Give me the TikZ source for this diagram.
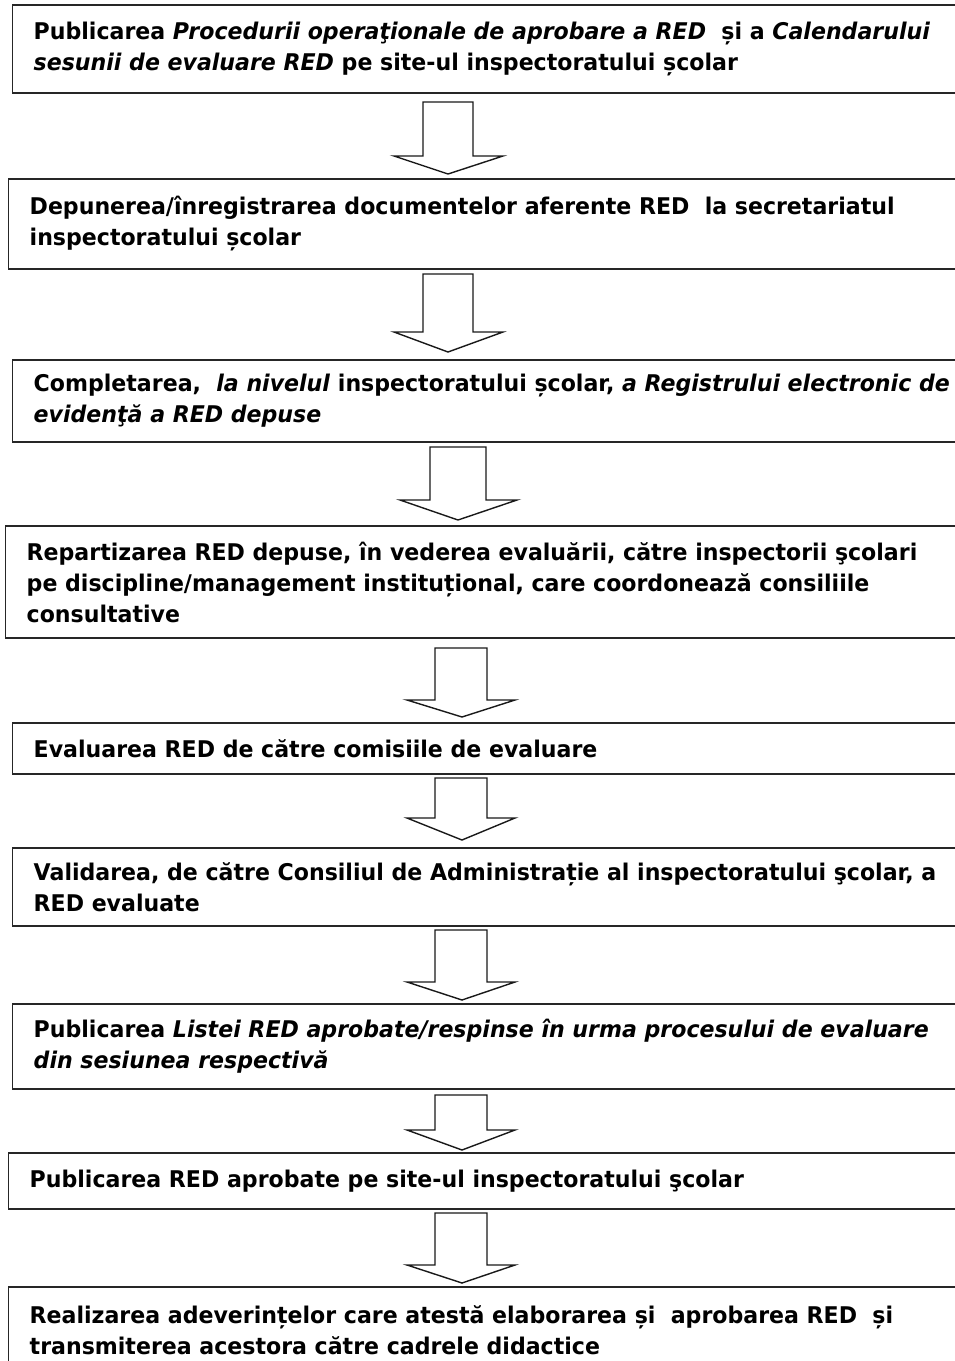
\documentclass[tikz,border=0pt]{standalone}
\usepackage{fontspec}
\setmainfont{DejaVu Sans}[FakeStretch=0.96]
\begin{document}
\begin{tikzpicture}[x=1pt,y=-1pt,
  stepbox/.style={draw=black!85, line width=1.4pt, rectangle, anchor=west,
    inner xsep=21pt, inner ysep=0pt, align=left, text width=960pt,
    font=\bfseries\fontsize{23}{31}\selectfont},
  blockarrow/.style={draw=black!90, line width=1.4pt, fill=white, line join=miter}]
\useasboundingbox (0,0) rectangle (955,1361);
% boxes: (left, center), extending past the right edge of the page
\node[stepbox, minimum height=88pt] (b1) at (12,49)
  {Publicarea \textit{Procedurii operaţionale de aprobare a RED}\ \ și a \textit{Calendarului}\\
   \textit{sesunii de evaluare RED} pe site-ul inspectoratului școlar};
\node[stepbox, minimum height=90pt] (b2) at (8,224)
  {Depunerea/înregistrarea documentelor aferente RED\ \ la secretariatul\\
   inspectoratului școlar};
\node[stepbox, minimum height=82pt] (b3) at (12,401)
  {Completarea,\ \ \textit{la nivelul} inspectoratului școlar, \textit{a Registrului electronic de}\\
   \textit{evidenţă a RED depuse}};
\node[stepbox, minimum height=112pt] (b4) at (5,582)
  {Repartizarea RED depuse, în vederea evaluării, către inspectorii şcolari\\
   pe discipline/management instituțional, care coordonează consiliile\\
   consultative};
\node[stepbox, minimum height=51pt] (b5) at (12,748.5)
  {Evaluarea RED de către comisiile de evaluare};
\node[stepbox, minimum height=78pt] (b6) at (12,887)
  {Validarea, de către Consiliul de Administrație al inspectoratului şcolar, a\\
   RED evaluate};
\node[stepbox, minimum height=85pt] (b7) at (12,1046.5)
  {Publicarea \textit{Listei RED aprobate/respinse în urma procesului de evaluare}\\
   \textit{din sesiunea respectivă}};
\node[stepbox, minimum height=56pt] (b8) at (8,1181)
  {Publicarea RED aprobate pe site-ul inspectoratului şcolar};
\node[stepbox, minimum height=86pt] (b9) at (8,1330)
  {Realizarea adeverințelor care atestă elaborarea și\ \ aprobarea RED\ \ și\\
   transmiterea acestora către cadrele didactice};
% block arrows
\draw[blockarrow] (423,102) -- (473,102) -- (473,156) -- (503,156) -- (448,174) -- (394,156) -- (423,156) -- cycle;
\draw[blockarrow] (423,274) -- (473,274) -- (473,332) -- (503,332) -- (448,352) -- (394,332) -- (423,332) -- cycle;
\draw[blockarrow] (430,447) -- (486,447) -- (486,500) -- (517,500) -- (458,520) -- (400,500) -- (430,500) -- cycle;
\draw[blockarrow] (435,648) -- (487,648) -- (487,700) -- (515,700) -- (462,717) -- (407,700) -- (435,700) -- cycle;
\draw[blockarrow] (435,778) -- (487,778) -- (487,818) -- (515,818) -- (462,840) -- (407,818) -- (435,818) -- cycle;
\draw[blockarrow] (435,930) -- (487,930) -- (487,982) -- (515,982) -- (462,1000) -- (407,982) -- (435,982) -- cycle;
\draw[blockarrow] (435,1095) -- (487,1095) -- (487,1130) -- (515,1130) -- (462,1150) -- (407,1130) -- (435,1130) -- cycle;
\draw[blockarrow] (435,1213) -- (487,1213) -- (487,1265) -- (515,1265) -- (462,1283) -- (407,1265) -- (435,1265) -- cycle;
\end{tikzpicture}
\end{document}
